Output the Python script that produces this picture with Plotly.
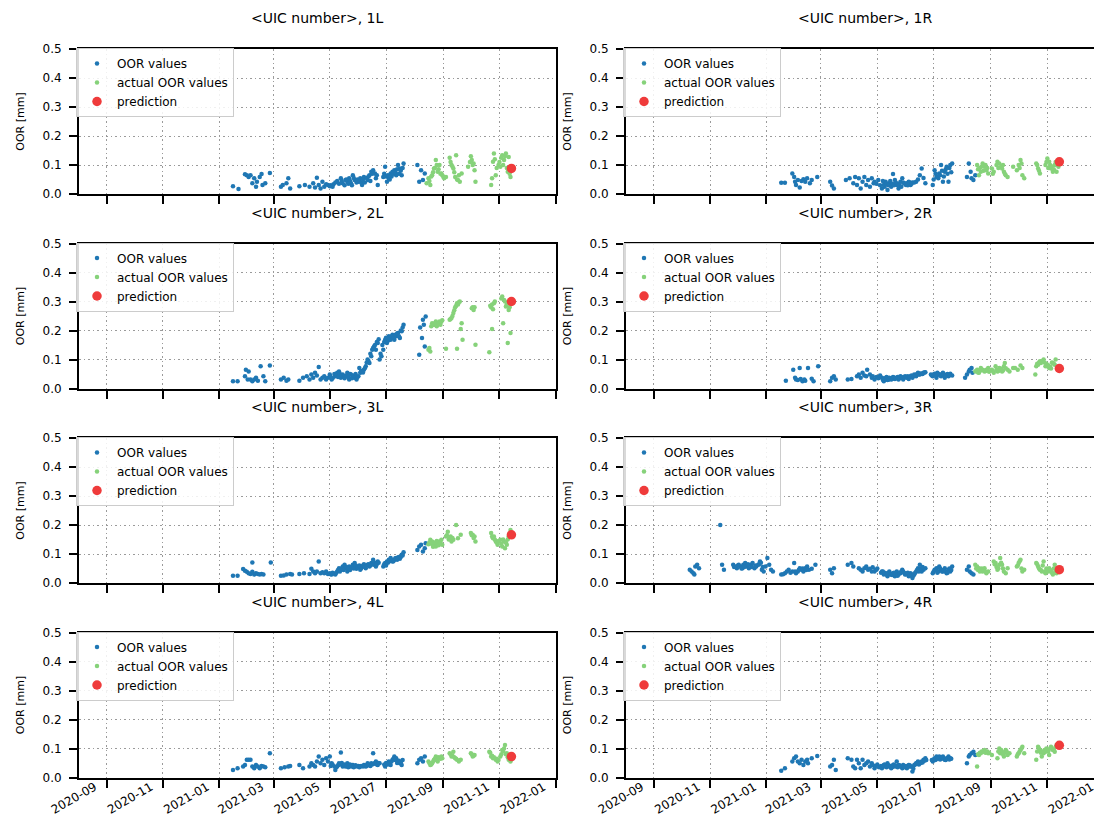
import pandas as pd
import plotly.graph_objects as go

# x values are day offsets counted from BASE_DATE, y values are OOR in mm
BASE_DATE = "2021-01-01"

PANEL_NAMES = ["1L", "1R", "2L", "2R", "3L", "3R", "4L", "4R"]
SERIES_NAMES = ["OOR values", "actual OOR values", "prediction"]
X_TICKS = ["2020-09-01", "2020-11-01", "2021-01-01", "2021-03-01", "2021-05-01",
           "2021-07-01", "2021-09-01", "2021-11-01", "2022-01-01"]
Y_TICKS = [0.0, 0.1, 0.2, 0.3, 0.4, 0.5]

# ---------------- 1L ----------------
OOR_1L = [(15,.027),(21,.017),(28,.068),(30,.065),(32,.059),(34,.065),(36,.037),(38,.054),(40,.025),(41,.042),
          (44,.059),(46,.069),(47,.031),(50,.037),(55,.072),(67,.025),(69,.031),(73,.037),(75,.054),(77,.019),
          (87,.027),(93,.031),(98,.025),(102,.037),(104,.022),(106,.056),(108,.031),(110,.019),(112,.042),(114,.025),
          (116,.034),(118,.031),(120,.027),(124,.034),(128,.045),(132,.054),(134,.037),(137,.048),(139,.042),(141,.054),
          (143,.037),(145,.065),(147,.048),(151,.042),(153,.054),(155,.031),(157,.059),(161,.048),(163,.065),(165,.077),
          (167,.082),(169,.071),(170,.054),(172,.031),(178,.059),(180,.094),(182,.042),(184,.054),(186,.071),(188,.077),
          (190,.082),(192,.065),(194,.1),(196,.088),(198,.065),(200,.105),(215,.1),(217,.042),(219,.082),(221,.048),(223,.071),
          (121,.03),(123,.025),(126,.04),(130,.035),(133,.045),(136,.03),(138,.05),(140,.035),(142,.045),(144,.03),
          (146,.055),(149,.04),(150,.05),(152,.045),(154,.04),(156,.05),(158,.04),(160,.055),(162,.06),(164,.045),
          (166,.07),(171,.065),(179,.07),(181,.06),(183,.065),(185,.05),(187,.06),(189,.07),(191,.075),(193,.085),
          (195,.07),(197,.08),(199,.09)]
ACT_1L = [(225,.037),(227,.054),(229,.031),(231,.065),(233,.088),(235,.117),(237,.077),(239,.1),(241,.071),(242,.065),
          (244,.054),(246,.059),(250,.125),(252,.1),(254,.088),(256,.059),(257,.134),(259,.048),(261,.042),(263,.071),
          (270,.094),(273,.13),(274,.117),(276,.105),(277,.082),(278,.042),(295,.031),(296,.054),(297,.111),(298,.14),
          (300,.065),(303,.1),(305,.094),(307,.134),(309,.117),(311,.14),(313,.077),(314,.128),(316,.059),
          (228,.045),(230,.06),(232,.075),(234,.09),(236,.1),(238,.085),(240,.07),(243,.06),(251,.11),(253,.095),
          (255,.075),(258,.05),(260,.065),(272,.11),(275,.1),(299,.12),(301,.09),(304,.11),(306,.125),(308,.1),
          (310,.13),(312,.09),(315,.07)]
PRED_1L = [(317,.088)]

# ---------------- 1R ----------------
OOR_1R = [(16,.039),(20,.039),(28,.071),(30,.059),(31,.042),(32,.031),(34,.048),(36,.022),(38,.045),(40,.051),
          (42,.042),(44,.054),(47,.037),(49,.048),(55,.059),(69,.042),(71,.029),(73,.019),(86,.048),(90,.054),
          (94,.037),(96,.059),(98,.031),(100,.054),(102,.019),(104,.042),(106,.059),(108,.031),(110,.048),(112,.025),
          (114,.054),(116,.037),(117,.042),(121,.048),(125,.019),(127,.031),(129,.042),(131,.014),(133,.037),(135,.025),
          (137,.069),(139,.048),(141,.031),(143,.019),(145,.042),(147,.054),(149,.037),(151,.031),(152,.037),(154,.042),
          (156,.031),(158,.04),(162,.042),(166,.065),(168,.088),(172,.037),(180,.031),(182,.082),(184,.059),(186,.054),
          (187,.071),(189,.1),(191,.042),(193,.077),(195,.094),(197,.042),(199,.1),(201,.105),(217,.059),(219,.105),
          (221,.077),(222,.054),(224,.048),(226,.065),
          (119,.035),(123,.03),(126,.045),(128,.025),(130,.035),(132,.03),(134,.045),(136,.035),(138,.03),(140,.04),
          (142,.035),(144,.03),(146,.025),(148,.04),(150,.035),(153,.03),(155,.04),(157,.035),(160,.04),(164,.05),
          (170,.055),(181,.05),(183,.07),(185,.06),(188,.065),(190,.08),(192,.06),(194,.085),(196,.07),(198,.09),(200,.075)]
ACT_1R = [(228,.1),(230,.065),(232,.077),(234,.105),(236,.094),(238,.082),(240,.071),(244,.088),(246,.077),(250,.111),
          (252,.105),(254,.094),(255,.088),(257,.077),(259,.065),(261,.059),(267,.094),(271,.082),(273,.1),(275,.117),
          (277,.065),(279,.054),(292,.105),(294,.088),(296,.071),(302,.1),(304,.122),(306,.111),(308,.088),(310,.077),
          (312,.1),(314,.077),(316,.094),
          (229,.085),(231,.09),(233,.095),(235,.08),(237,.1),(239,.09),(245,.07),(249,.1),(251,.09),(256,.1),
          (258,.07),(274,.09),(276,.105),(293,.1),(295,.08),(303,.11),(305,.09),(307,.1),(309,.095),(311,.085),
          (313,.11),(315,.1)]
PRED_1R = [(317,.111)]

# ---------------- 2L ----------------
OOR_2L = [(15,.025),(20,.025),(28,.042),(29,.065),(31,.031),(32,.059),(34,.031),(36,.025),(38,.031),(40,.037),
          (42,.027),(45,.077),(48,.042),(50,.025),(55,.079),(67,.031),(70,.037),(73,.027),(75,.031),(87,.027),
          (91,.037),(95,.042),(98,.031),(100,.048),(102,.037),(104,.054),(106,.045),(108,.074),(110,.031),(112,.037),
          (114,.042),(116,.031),(118,.037),(120,.048),(122,.031),(126,.042),(128,.054),(130,.059),(132,.037),(134,.048),
          (137,.042),(139,.054),(141,.031),(143,.048),(145,.042),(147,.037),(149,.031),(151,.042),(152,.071),(153,.054),
          (155,.059),(157,.065),(159,.077),(161,.1),(163,.088),(165,.111),(166,.134),(168,.145),(170,.134),(172,.157),
          (174,.1),(176,.111),(178,.134),(180,.168),(182,.157),(184,.18),(186,.168),(188,.185),(190,.168),(192,.18),
          (194,.191),(196,.174),(198,.197),(200,.22),(217,.116),(218,.21),(220,.174),(221,.237),(222,.22),(223,.145),(224,.248),
          (121,.04),(123,.035),(125,.05),(127,.045),(129,.04),(131,.05),(133,.045),(135,.04),(136,.035),(138,.045),
          (140,.04),(142,.05),(144,.035),(146,.045),(148,.05),(150,.04),(154,.06),(156,.055),(158,.07),(160,.09),
          (162,.095),(164,.12),(167,.14),(169,.15),(171,.16),(173,.17),(175,.12),(177,.15),(179,.16),(181,.175),
          (183,.165),(185,.17),(187,.18),(189,.175),(191,.185),(193,.19),(195,.18),(197,.2),(199,.21)]
ACT_2L = [(227,.134),(229,.128),(231,.225),(233,.219),(235,.231),(237,.223),(239,.231),(240,.22),(242,.235),(246,.137),
          (250,.237),(252,.243),(254,.26),(256,.28),(258,.294),(258,.137),(260,.297),(262,.205),(263,.225),(264,.168),
          (274,.277),(276,.271),(277,.28),(278,.151),(293,.125),(295,.28),(296,.205),(297,.273),(298,.294),(307,.317),
          (308,.225),(309,.305),(311,.283),(313,.157),(314,.271),(316,.191),(316,.295),
          (228,.14),(230,.215),(232,.22),(234,.225),(236,.215),(238,.225),(241,.23),(251,.24),(253,.25),(255,.27),
          (257,.285),(259,.29),(261,.3),(275,.28),(294,.285),(296,.29),(299,.3),(306,.31),(310,.3),(312,.29),(315,.28)]
PRED_2L = [(317,.3)]

# ---------------- 2R ----------------
OOR_2R = [(21,.027),(29,.065),(31,.037),(32,.031),(34,.029),(36,.071),(37,.033),(39,.025),(41,.031),(42,.027),
          (45,.071),(49,.034),(51,.025),(56,.077),(69,.025),(71,.037),(73,.042),(75,.031),(88,.031),(92,.033),
          (98,.042),(100,.048),(102,.037),(104,.054),(106,.045),(108,.042),(109,.065),(112,.048),(114,.037),(115,.042),
          (117,.031),(125,.037),(127,.025),(129,.033),(131,.029),(133,.037),(135,.031),(137,.04),(139,.033),(141,.037),
          (143,.031),(145,.042),(147,.037),(148,.031),(150,.042),(152,.037),(154,.033),(156,.042),(158,.037),(160,.048),
          (162,.042),(164,.054),(166,.048),(168,.051),(170,.054),(172,.056),(178,.048),(180,.042),(182,.051),(184,.037),
          (185,.054),(187,.048),(189,.042),(191,.054),(193,.037),(195,.048),(197,.042),(199,.051),(201,.045),(215,.037),
          (217,.048),(219,.059),(220,.065),(222,.071),(223,.054),
          (119,.04),(121,.035),(123,.045),(126,.03),(128,.035),(130,.04),(132,.03),(134,.035),(136,.033),(138,.038),
          (140,.035),(142,.04),(144,.035),(146,.04),(149,.038),(151,.04),(153,.042),(155,.04),(157,.045),(159,.042),
          (161,.046),(163,.05),(165,.048),(167,.052),(169,.05),(171,.055),(179,.045),(181,.048),(183,.045),(186,.05),
          (188,.045),(190,.05),(192,.047),(194,.045),(196,.05),(198,.046)]
ACT_2R = [(226,.059),(228,.065),(230,.054),(232,.071),(234,.065),(236,.059),(238,.065),(240,.071),(244,.065),(246,.054),
          (248,.077),(250,.059),(252,.071),(253,.065),(255,.059),(257,.077),(258,.088),(261,.065),(263,.059),(267,.071),
          (269,.071),(272,.065),(275,.079),(277,.071),(291,.048),(292,.077),(294,.082),(296,.094),(297,.088),(300,.1),
          (302,.077),(304,.077),(306,.071),(308,.069),(310,.088),(312,.082),(313,.1),
          (227,.06),(229,.055),(231,.06),(233,.065),(235,.062),(237,.06),(239,.063),(241,.058),(245,.06),(249,.065),
          (251,.06),(254,.068),(256,.062),(259,.07),(293,.085),(295,.09),(298,.095),(301,.09),(303,.085),(305,.08),
          (307,.075),(309,.09),(311,.085)]
PRED_2R = [(317,.069)]

# ---------------- 3L ----------------
OOR_3L = [(15,.025),(20,.025),(26,.048),(28,.042),(30,.039),(32,.034),(34,.031),(36,.039),(36,.071),(38,.029),
          (40,.034),(42,.031),(44,.029),(46,.031),(48,.029),(56,.071),(67,.025),(70,.026),(73,.029),(77,.031),
          (79,.029),(87,.031),(92,.034),(98,.031),(100,.049),(102,.04),(104,.034),(106,.04),(108,.074),(110,.034),
          (112,.037),(114,.034),(116,.04),(118,.031),(120,.034),(122,.029),(126,.029),(128,.04),(130,.051),(132,.046),
          (134,.057),(136,.063),(137,.051),(139,.04),(141,.057),(143,.051),(145,.063),(147,.069),(149,.049),(151,.057),
          (153,.046),(155,.057),(157,.065),(159,.051),(161,.063),(163,.057),(165,.069),(167,.08),(168,.063),(170,.057),
          (172,.074),(178,.057),(180,.069),(182,.074),(184,.08),(186,.086),(188,.074),(190,.08),(192,.086),(194,.088),
          (196,.084),(198,.097),(200,.106),(215,.114),(217,.126),(219,.132),(221,.109),(223,.12),(224,.137),
          (121,.03),(123,.035),(125,.032),(127,.035),(129,.045),(131,.04),(133,.05),(135,.045),(138,.055),(140,.05),
          (142,.045),(144,.055),(146,.05),(148,.06),(150,.055),(152,.06),(154,.05),(156,.06),(158,.055),(160,.06),
          (162,.065),(164,.06),(166,.065),(169,.07),(171,.065),(173,.07),(179,.065),(181,.06),(183,.07),(185,.075),
          (187,.08),(189,.075),(191,.085),(193,.08),(195,.09),(197,.09),(199,.095)]
ACT_3L = [(227,.134),(229,.149),(231,.143),(233,.132),(235,.126),(237,.137),(239,.143),(241,.149),(242,.132),(246,.16),
          (248,.177),(250,.154),(252,.143),(254,.149),(257,.2),(259,.154),(262,.166),(273,.172),(275,.166),(277,.16),
          (278,.143),(295,.172),(296,.16),(297,.154),(300,.143),(302,.132),(305,.149),(307,.126),(309,.143),(310,.12),
          (312,.132),(314,.16),(316,.183),
          (228,.14),(230,.135),(232,.125),(234,.14),(236,.145),(238,.13),(240,.14),(247,.165),(249,.15),(251,.16),
          (253,.155),(274,.165),(276,.155),(298,.16),(299,.15),(301,.14),(303,.145),(306,.135),(308,.15),(311,.14),
          (313,.15),(315,.17)]
PRED_3L = [(317,.166)]

# ---------------- 3R ----------------
OOR_3R = [(-83,.046),(-81,.04),(-79,.034),(-78,.029),(-77,.057),(-75,.063),(-73,.051),(-50,.2),(-48,.063),(-46,.046),
          (-36,.063),(-34,.057),(-32,.051),(-30,.063),(-28,.057),(-26,.051),(-25,.063),(-23,.069),(-21,.057),(-19,.051),
          (-17,.063),(-15,.069),(-13,.051),(-11,.057),(-9,.063),(-7,.074),(-5,.046),(-3,.04),(-1,.057),(1,.086),
          (3,.063),(5,.046),(7,.04),(16,.029),(20,.034),(24,.046),(28,.04),(30,.069),(32,.034),(34,.04),
          (36,.051),(38,.046),(40,.04),(42,.051),(44,.057),(46,.046),(49,.049),(53,.063),(69,.046),(71,.034),
          (73,.051),(88,.063),(92,.069),(94,.057),(100,.051),(102,.046),(104,.04),(106,.051),(108,.057),(110,.046),
          (112,.049),(114,.04),(115,.054),(117,.04),(119,.046),(125,.04),(127,.029),(129,.034),(131,.023),(133,.04),
          (135,.029),(137,.034),(139,.023),(141,.04),(143,.029),(145,.034),(147,.046),(148,.04),(150,.029),(154,.023),
          (156,.034),(158,.017),(160,.029),(162,.04),(164,.051),(166,.063),(168,.04),(170,.046),(172,.051),(180,.034),
          (182,.046),(184,.051),(186,.04),(187,.057),(189,.046),(191,.04),(193,.051),(195,.034),(197,.046),(199,.04),
          (201,.057),(217,.046),(219,.057),(220,.04),(222,.034),(224,.029),
          (-35,.055),(-31,.06),(-27,.05),(-24,.055),(-20,.065),(-16,.055),(-12,.06),(-8,.065),(-6,.07),(-4,.055),
          (18,.03),(22,.04),(26,.035),(31,.04),(35,.045),(39,.05),(43,.045),(118,.045),(120,.05),(124,.035),
          (126,.04),(128,.035),(130,.03),(132,.035),(134,.03),(136,.028),(138,.035),(140,.03),(142,.025),(144,.035),
          (146,.04),(149,.035),(151,.03),(153,.035),(155,.025),(157,.03),(159,.025),(161,.035),(163,.045),(165,.04),
          (167,.05),(169,.055),(181,.04),(183,.045),(185,.035),(188,.05),(190,.04),(192,.045),(194,.04),(196,.035),
          (198,.05),(200,.045)]
ACT_3R = [(226,.063),(228,.057),(230,.051),(232,.046),(234,.04),(236,.051),(238,.034),(240,.04),(246,.074),(248,.069),
          (250,.046),(252,.063),(253,.086),(255,.063),(257,.04),(259,.034),(261,.051),(271,.057),(273,.069),(275,.08),
          (277,.04),(279,.046),(292,.069),(294,.057),(296,.046),(298,.04),(300,.074),(302,.034),(304,.046),(306,.051),
          (308,.04),(310,.029),(312,.063),(314,.034),(316,.046),
          (227,.05),(229,.045),(231,.04),(233,.05),(235,.045),(237,.04),(247,.065),(249,.055),(251,.05),(254,.07),
          (256,.05),(272,.06),(274,.075),(276,.05),(293,.065),(295,.05),(297,.045),(299,.06),(301,.04),(303,.05),
          (305,.04),(307,.045),(309,.035),(311,.05),(313,.04),(315,.04)]
PRED_3R = [(317,.046)]

# ---------------- 4L ----------------
OOR_4L = [(15,.026),(20,.032),(26,.038),(28,.043),(30,.061),(32,.061),(34,.061),(36,.038),(38,.032),(40,.043),
          (42,.038),(44,.032),(46,.04),(48,.038),(50,.035),(55,.084),(67,.032),(71,.035),(75,.038),(77,.04),
          (87,.043),(91,.032),(98,.038),(100,.049),(102,.043),(104,.038),(106,.055),(108,.072),(110,.049),(112,.061),
          (114,.043),(116,.066),(118,.055),(120,.072),(122,.049),(126,.026),(128,.038),(130,.049),(132,.086),(134,.038),
          (135,.043),(137,.038),(139,.049),(141,.043),(143,.038),(145,.043),(147,.038),(151,.04),(153,.038),(157,.043),
          (159,.038),(161,.049),(163,.043),(165,.049),(167,.084),(168,.047),(170,.055),(172,.043),(174,.049),(180,.038),
          (182,.049),(184,.055),(186,.043),(188,.061),(190,.072),(192,.066),(194,.055),(196,.049),(198,.043),(215,.049),
          (217,.061),(219,.066),(221,.055),(223,.072),
          (121,.04),(123,.045),(125,.038),(127,.035),(129,.042),(131,.045),(133,.05),(136,.045),(138,.04),(140,.035),
          (142,.045),(144,.04),(146,.035),(148,.042),(150,.038),(152,.035),(154,.04),(156,.038),(158,.042),(160,.04),
          (162,.045),(164,.04),(166,.045),(169,.05),(171,.045),(173,.05),(179,.045),(181,.05),(183,.045),(185,.05),
          (187,.055),(189,.065),(191,.06),(193,.05),(195,.058),(197,.052),(199,.06)]
ACT_4L = [(227,.055),(229,.043),(231,.049),(233,.061),(235,.072),(237,.055),(239,.066),(241,.072),(242,.066),(250,.084),
          (252,.072),(254,.089),(256,.066),(258,.061),(260,.055),(262,.061),(273,.084),(275,.072),(277,.078),(293,.089),
          (295,.072),(297,.066),(300,.061),(302,.055),(305,.072),(307,.095),(310,.112),(312,.084),(314,.061),(316,.055),
          (228,.05),(230,.045),(232,.055),(234,.065),(236,.06),(238,.07),(240,.065),(251,.08),(253,.075),(255,.07),
          (257,.065),(274,.08),(276,.075),(294,.085),(296,.075),(298,.07),(301,.065),(303,.06),(306,.08),(308,.09),
          (309,.1),(311,.08),(313,.07),(315,.065)]
PRED_4L = [(317,.072)]

# ---------------- 4R ----------------
OOR_4R = [(16,.023),(20,.032),(28,.055),(30,.066),(32,.072),(34,.055),(36,.049),(38,.061),(40,.043),(42,.055),
          (44,.061),(45,.049),(49,.066),(55,.074),(69,.038),(71,.043),(73,.061),(75,.026),(88,.066),(92,.061),
          (94,.038),(96,.032),(98,.061),(100,.049),(102,.032),(104,.061),(106,.043),(108,.049),(110,.055),(112,.038),
          (114,.049),(115,.043),(117,.032),(125,.032),(127,.043),(129,.038),(131,.049),(133,.038),(135,.032),(137,.043),
          (139,.038),(141,.055),(143,.043),(145,.038),(147,.032),(148,.043),(150,.038),(152,.032),(154,.043),(156,.038),
          (158,.021),(160,.043),(162,.049),(164,.055),(166,.049),(168,.055),(170,.061),(172,.066),(180,.055),(182,.066),
          (184,.072),(186,.066),(187,.072),(189,.066),(191,.072),(193,.061),(195,.066),(197,.072),(199,.066),(217,.049),
          (219,.072),(220,.078),(222,.084),(224,.089),(226,.078),
          (118,.04),(120,.045),(122,.035),(124,.04),(126,.038),(128,.045),(130,.035),(132,.042),(134,.04),(136,.035),
          (138,.045),(140,.04),(142,.035),(144,.042),(146,.038),(149,.035),(151,.04),(153,.036),(155,.042),(157,.038),
          (159,.03),(161,.045),(163,.05),(165,.045),(167,.05),(169,.052),(171,.058),(173,.06),(179,.06),(181,.062),
          (183,.06),(185,.065),(188,.062),(190,.068),(192,.064),(194,.06),(196,.065),(198,.062),(200,.065)]
ACT_4R = [(228,.038),(230,.078),(232,.084),(234,.089),(236,.095),(238,.089),(240,.084),(244,.078),(250,.066),(252,.1),
          (253,.084),(255,.089),(257,.072),(259,.095),(261,.078),(263,.084),(271,.072),(273,.084),(275,.095),(277,.106),
          (279,.084),(292,.061),(294,.106),(296,.095),(298,.072),(300,.084),(302,.089),(304,.095),(306,.078),(308,.106),
          (310,.095),(312,.089),(314,.112),
          (229,.08),(231,.085),(233,.09),(235,.09),(237,.085),(239,.09),(241,.085),(251,.09),(254,.095),(256,.08),
          (258,.085),(260,.09),(272,.08),(274,.09),(276,.1),(293,.09),(295,.1),(297,.085),(299,.09),(301,.095),
          (303,.1),(305,.09),(307,.1),(309,.1),(311,.095),(313,.105)]
PRED_4R = [(317,.111)]

PANEL_DATA = [
    (OOR_1L, ACT_1L, PRED_1L), (OOR_1R, ACT_1R, PRED_1R),
    (OOR_2L, ACT_2L, PRED_2L), (OOR_2R, ACT_2R, PRED_2R),
    (OOR_3L, ACT_3L, PRED_3L), (OOR_3R, ACT_3R, PRED_3R),
    (OOR_4L, ACT_4L, PRED_4L), (OOR_4R, ACT_4R, PRED_4R),
]

# ---------------- styling / layout ----------------
W, H = 1102, 823
FONT = "DejaVu Sans"
COLORS = ["#1f77b4", "#86d27a", "#ef3b3b"]
SIZES = [4.5, 4.5, 9.5]
X_DOMAINS_PX = [(71, 548), (618, 1096)]
ROW_TOPS_PX = [41, 235.5, 430, 624.5]
PANEL_H_PX = 145

base = pd.Timestamp(BASE_DATE)


def to_dates(pts):
    return [(base + pd.Timedelta(days=d)).strftime("%Y-%m-%d") for d, _ in pts]


def to_vals(pts):
    return [v for _, v in pts]


fig = go.Figure()
layout = dict(
    width=W, height=H, autosize=False,
    margin=dict(l=0, r=0, t=0, b=0),
    paper_bgcolor="white", plot_bgcolor="white",
    font=dict(family=FONT, color="black"),
    annotations=[],
)

for i, name in enumerate(PANEL_NAMES):
    r, c = divmod(i, 2)
    n = i + 1
    xref = "x" if n == 1 else f"x{n}"
    yref = "y" if n == 1 else f"y{n}"
    lg = "legend" if n == 1 else f"legend{n}"
    x0, x1 = X_DOMAINS_PX[c]
    top = ROW_TOPS_PX[r]
    bot = top + PANEL_H_PX
    xd = [x0 / W, x1 / W]
    yd = [1 - bot / H, 1 - top / H]

    for k, series in enumerate(PANEL_DATA[i]):
        fig.add_trace(go.Scatter(
            x=to_dates(series), y=to_vals(series), mode="markers",
            name=SERIES_NAMES[k], xaxis=xref, yaxis=yref, legend=lg,
            marker=dict(color=COLORS[k], size=SIZES[k], line=dict(width=0)),
            showlegend=True,
        ))

    axis_common = dict(
        showline=True, linecolor="black", linewidth=2, mirror=True,
        ticks="outside", ticklen=8, tickwidth=1.5, tickcolor="black",
        showgrid=True, gridcolor="#9a9a9a", griddash="1.5px,3px", gridwidth=1,
        zeroline=False, automargin=False,
        tickfont=dict(family=FONT, size=12, color="black"),
    )
    layout["xaxis" if n == 1 else f"xaxis{n}"] = dict(
        axis_common, domain=xd, anchor=yref, type="date",
        range=["2020-08-02", "2022-01-01 08:00"],
        tickvals=X_TICKS, tickformat="%Y-%m", tickangle=-30,
        ticklabelshift=-12, ticklabelstandoff=-12,
        showticklabels=(r == 3),
    )
    layout["yaxis" if n == 1 else f"yaxis{n}"] = dict(
        axis_common, domain=yd, anchor=xref, range=[0, 0.5],
        tickvals=Y_TICKS, ticktext=[f"{v:.1f}" for v in Y_TICKS],
        ticklabelstandoff=5,
        title=dict(text="OOR [mm]", font=dict(family=FONT, size=11, color="black"), standoff=16),
    )
    layout[lg] = dict(
        x=(x0 - 3) / W, y=1 - (top - 1) / H, xanchor="left", yanchor="top",
        bgcolor="rgba(255,255,255,0.85)", bordercolor="#cccccc", borderwidth=1,
        font=dict(family=FONT, size=12, color="black"),
        tracegroupgap=0, itemclick=False,
    )
    layout["annotations"].append(dict(
        text=f"&lt;UIC number&gt;, {name}", xref="paper", yref="paper",
        x=(xd[0] + xd[1]) / 2, y=yd[1], yshift=31, xanchor="center", yanchor="middle",
        showarrow=False, font=dict(family=FONT, size=14, color="black"),
    ))

fig.update_layout(**layout)
fig.write_html("out.html")
